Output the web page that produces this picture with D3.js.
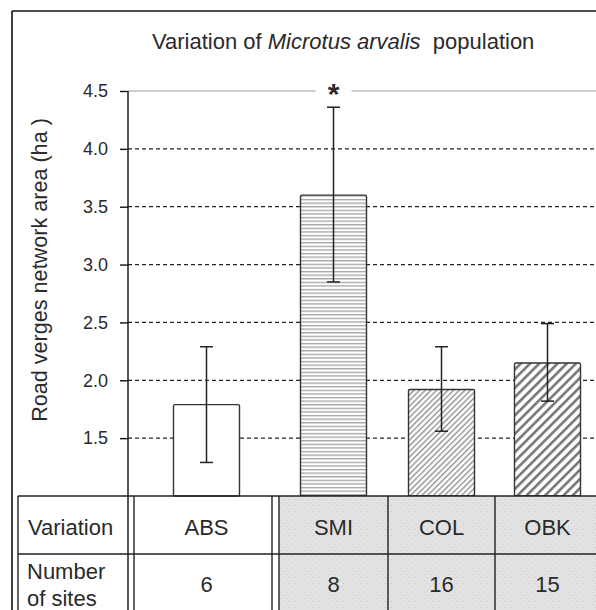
<!DOCTYPE html>
<html><head><meta charset="utf-8">
<script src="https://cdn.jsdelivr.net/npm/d3@7"></script>
<style>
html,body{margin:0;padding:0;background:#fff;}
svg{display:block;}
text{font-family:"Liberation Sans",Arial,sans-serif;fill:#2a2a2a;}
</style></head>
<body>
<script>
// ---- data ----
const categories = ["ABS", "SMI", "COL", "OBK"];
const means      = [1.79, 3.60, 1.92, 2.15];
const errLow     = [1.29, 2.85, 1.56, 1.82];
const errHigh    = [2.29, 4.36, 2.29, 2.49];
const sites      = [6, 8, 16, 15];
const yTicks     = [1.5, 2.0, 2.5, 3.0, 3.5, 4.0, 4.5];
const significant = [false, true, false, false];
const fills = ["white", "url(#hlines)", "url(#fine)", "url(#coarse)"];

// ---- layout ----
const W = 596, H = 610;
const axisX = 128, plotTop = 91, plotBottom = 496, rightX = 600;
const colEdges = [134, 279, 388, 495, 600]; // table column edges for categories
const barW = 66;

const svg = d3.select("body").append("svg").attr("width", W).attr("height", H);
const defs = svg.append("defs");

// patterns
const p1 = defs.append("pattern").attr("id", "hlines").attr("patternUnits", "userSpaceOnUse")
  .attr("width", 8).attr("height", 3.6);
p1.append("rect").attr("width", 8).attr("height", 3.6).attr("fill", "#fff");
p1.append("rect").attr("y", 1).attr("width", 8).attr("height", 1.2).attr("fill", "#9a9a9a");

const p2 = defs.append("pattern").attr("id", "fine").attr("patternUnits", "userSpaceOnUse")
  .attr("width", 4).attr("height", 4).attr("patternTransform", "rotate(45)");
p2.append("rect").attr("width", 4).attr("height", 4).attr("fill", "#fff");
p2.append("rect").attr("width", 1.3).attr("height", 4).attr("fill", "#8a8a8a");

const p3 = defs.append("pattern").attr("id", "coarse").attr("patternUnits", "userSpaceOnUse")
  .attr("width", 6.5).attr("height", 6.5).attr("patternTransform", "rotate(45)");
p3.append("rect").attr("width", 6.5).attr("height", 6.5).attr("fill", "#fff");
p3.append("rect").attr("width", 2.6).attr("height", 6.5).attr("fill", "#777");

const p4 = defs.append("pattern").attr("id", "dots").attr("patternUnits", "userSpaceOnUse")
  .attr("width", 6).attr("height", 6);
p4.append("rect").attr("width", 6).attr("height", 6).attr("fill", "#e2e2e2");
p4.append("rect").attr("x", 1).attr("y", 1).attr("width", 1).attr("height", 1).attr("fill", "#cbcbcb");
p4.append("rect").attr("x", 4).attr("y", 4).attr("width", 1).attr("height", 1).attr("fill", "#cfcfcf");

// scales
const y = d3.scaleLinear().domain([1, 4.5]).range([plotBottom, plotTop]);
const centers = categories.map((c, i) => (colEdges[i] + colEdges[i + 1]) / 2);
const x = d3.scaleOrdinal().domain(categories).range(centers);

// outer border
svg.append("line").attr("x1", 12).attr("x2", W).attr("y1", 11).attr("y2", 11)
  .attr("stroke", "#111").attr("stroke-width", 1.6);
svg.append("line").attr("x1", 12).attr("x2", 12).attr("y1", 11).attr("y2", H)
  .attr("stroke", "#111").attr("stroke-width", 1.6);

// title
const title = svg.append("text").attr("x", 152).attr("y", 49).attr("font-size", 22);
title.append("tspan").text("Variation of ");
title.append("tspan").attr("font-style", "italic").text("Microtus arvalis");
title.append("tspan").text("\u00a0 population");

// gridlines
const grid = svg.append("g");
yTicks.forEach(t => {
  if (t === 4.5) {
    grid.append("line").attr("x1", axisX).attr("x2", rightX).attr("y1", y(t)).attr("y2", y(t))
      .attr("stroke", "#9a9a9a").attr("stroke-width", 1);
  } else {
    grid.append("line").attr("x1", axisX).attr("x2", rightX).attr("y1", y(t)).attr("y2", y(t))
      .attr("stroke", "#222").attr("stroke-width", 1.2).attr("stroke-dasharray", "4,3");
  }
});

// y axis
const axis = d3.axisLeft(y).tickValues(yTicks).tickFormat(d3.format(".1f")).tickSize(8).tickPadding(12);
const ag = svg.append("g").attr("transform", `translate(${axisX},0)`).call(axis);
ag.select(".domain").remove();
ag.selectAll(".tick line").attr("stroke", "#111").attr("stroke-width", 1.4);
ag.selectAll(".tick text").attr("font-family", "'DejaVu Sans',sans-serif").attr("font-size", 18)
  .attr("fill", "#2a2a2a");
svg.append("line").attr("x1", axisX).attr("x2", axisX).attr("y1", y(4.5)).attr("y2", H)
  .attr("stroke", "#111").attr("stroke-width", 1.4);

// y axis title
svg.append("text").attr("transform", `translate(47,270) rotate(-90)`)
  .attr("text-anchor", "middle").attr("font-size", 21.6).text("Road verges network area (ha )");

// bars
const bars = svg.append("g");
categories.forEach((c, i) => {
  bars.append("rect").attr("x", x(c) - barW / 2).attr("y", y(means[i]))
    .attr("width", barW).attr("height", y(1) - y(means[i]))
    .attr("fill", fills[i]).attr("stroke", "#333").attr("stroke-width", 1.4).attr("rx", 1.5);
});

// error bars
const eb = svg.append("g").attr("stroke", "#222").attr("stroke-width", 1.5);
categories.forEach((c, i) => {
  const cx = x(c);
  eb.append("line").attr("x1", cx).attr("x2", cx).attr("y1", y(errHigh[i])).attr("y2", y(errLow[i]));
  eb.append("line").attr("x1", cx - 6.5).attr("x2", cx + 6.5).attr("y1", y(errHigh[i])).attr("y2", y(errHigh[i]));
  eb.append("line").attr("x1", cx - 6.5).attr("x2", cx + 6.5).attr("y1", y(errLow[i])).attr("y2", y(errLow[i]));
});

// significance star with white background over the 4.5 line
categories.forEach((c, i) => {
  if (!significant[i]) return;
  svg.append("rect").attr("x", x(c) - 18).attr("y", y(4.5) - 3).attr("width", 36).attr("height", 6).attr("fill", "#fff");
  svg.append("text").attr("x", x(c)).attr("y", y(4.5) + 13).attr("text-anchor", "middle")
    .attr("font-size", 30).attr("font-weight", "bold").text("*");
});

// table
const tTop = plotBottom, tMid = 554, tBot = H + 5;
const tbl = svg.append("g");
for (let i = 1; i < categories.length; i++) {
  tbl.append("rect").attr("x", colEdges[i]).attr("y", tTop).attr("width", colEdges[i + 1] - colEdges[i])
    .attr("height", tBot - tTop).attr("fill", "url(#dots)");
}
function L(x1, y1, x2, y2) {
  tbl.append("line").attr("x1", x1).attr("y1", y1).attr("x2", x2).attr("y2", y2)
    .attr("stroke", "#222").attr("stroke-width", 1.4);
}
L(18, tTop, W, tTop);
L(18, tMid, W, tMid);
L(18, tTop, 18, tBot);
L(134, tTop, 134, tBot);
L(272, tTop, 272, tBot);
L(279, tTop, 279, tBot);
L(388, tTop, 388, tBot);
L(495, tTop, 495, tBot);

tbl.append("text").attr("x", 28).attr("y", 535).attr("font-size", 22).text("Variation");
tbl.append("text").attr("x", 27).attr("y", 579).attr("font-size", 22).text("Number");
tbl.append("text").attr("x", 27).attr("y", 606).attr("font-size", 22).text("of sites");
categories.forEach((c, i) => {
  tbl.append("text").attr("x", x(c)).attr("y", 535).attr("text-anchor", "middle").attr("font-size", 22).text(c);
  tbl.append("text").attr("x", x(c)).attr("y", 592).attr("text-anchor", "middle").attr("font-size", 22).text(sites[i]);
});
</script>
</body></html>
